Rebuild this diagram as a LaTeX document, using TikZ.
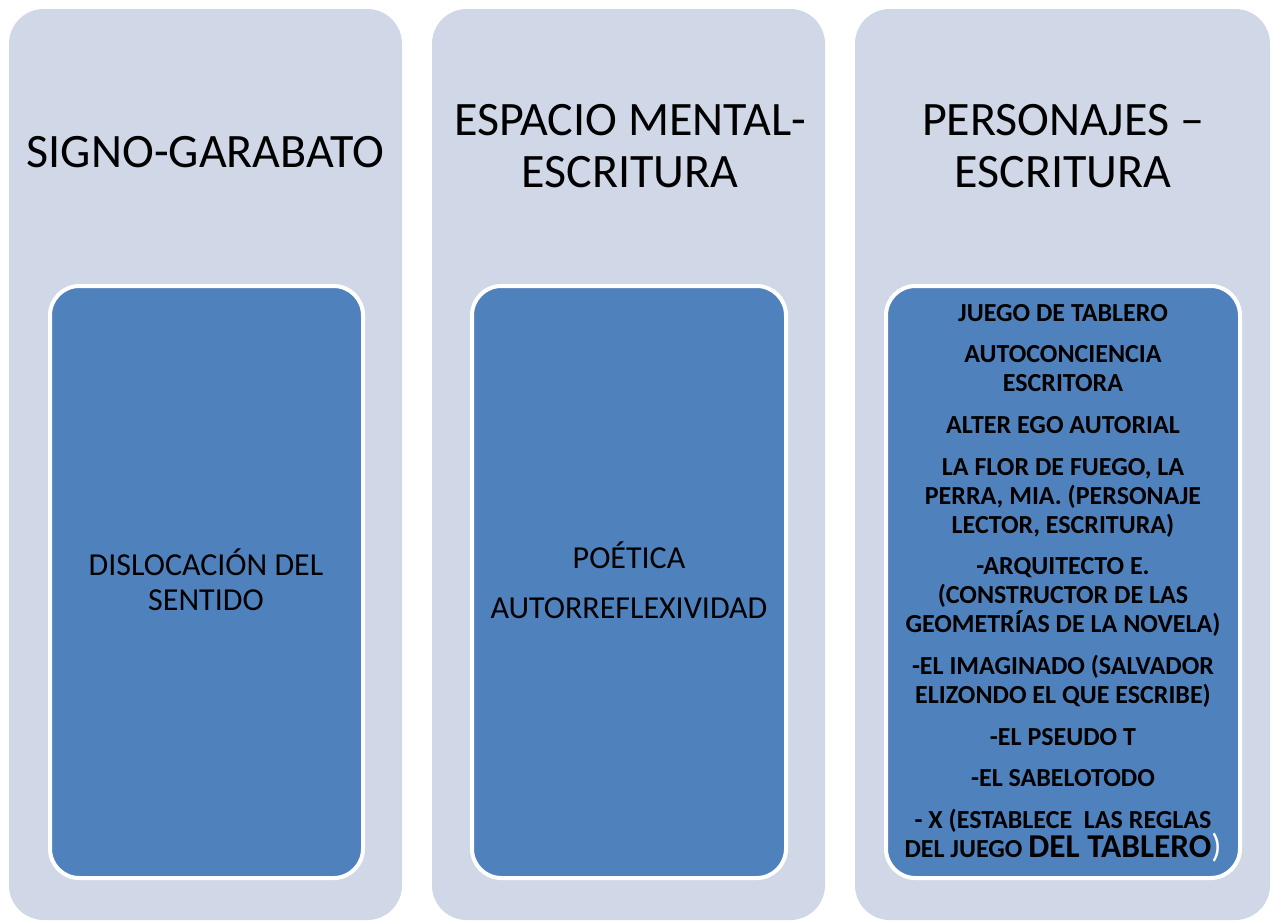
\documentclass[tikz,border=0pt]{standalone}
\usepackage{fontspec}
\setmainfont{Carlito}
\usepackage{xcolor}
\definecolor{panelgray}{HTML}{D0D8E8}
\definecolor{boxblue}{HTML}{4F81BD}
\tikzstyle{panel} = [rectangle, rounded corners=26pt, minimum height=683.25pt, minimum width=294.75pt, fill=panelgray, draw=none]
\tikzstyle{title} = [text centered, align=center, font=\fontsize{36}{39}\selectfont]
\tikzstyle{inner} = [rectangle, rounded corners=22pt, minimum height=444pt, minimum width=235pt, draw=white, line width=3pt, fill=boxblue, align=center]
\tikzstyle{plain} = [align=center, font=\fontsize{24}{26.25}\selectfont]
\tikzstyle{list} = [align=center, font=\fontsize{19.5}{21.75}\selectfont\bfseries]

\begin{document}
\begin{tikzpicture}[x=0.75pt, y=-0.75pt]
\useasboundingbox (0,0) rectangle (1272,922);

\node (signo) [panel] at (205.5,464.5) {};
\node (espacio) [panel] at (628.5,464.5) {};
\node (personajes) [panel, minimum width=311.25pt] at (1062.5,464.5) {};

\node (t1) [title] at (205.5,152) {SIGNO-GARABATO};
\node (t2) [title] at (630,146) {ESPACIO MENTAL-\\ESCRITURA};
\node (t3) [title] at (1063,146) {PERSONAJES --\\ESCRITURA};

\node (b1) [inner, minimum width=234.75pt] at (206.5,582) {};
\node (b2) [inner, minimum width=235.5pt] at (629,582) {};
\node (b3) [inner, minimum width=265.5pt] at (1063,582) {};

\node (dislocacion) [plain] at (206,580) {DISLOCACIÓN DEL\\SENTIDO};
\node (poetica) [plain] at (629,580) {POÉTICA\\[11pt]AUTORREFLEXIVIDAD};
\node (lista) [list] at (1063,583) {JUEGO DE TABLERO\\[9.5pt]
AUTOCONCIENCIA\\ESCRITORA\\[9.5pt]
ALTER EGO AUTORIAL\\[9.5pt]
LA FLOR DE FUEGO, LA\\PERRA, MIA. (PERSONAJE\\LECTOR, ESCRITURA)\\[9.5pt]
-ARQUITECTO E.\\(CONSTRUCTOR DE LAS\\GEOMETRÍAS DE LA NOVELA)\\[9.5pt]
-EL IMAGINADO (SALVADOR\\ELIZONDO EL QUE ESCRIBE)\\[9.5pt]
-EL PSEUDO T\\[9.5pt]
-EL SABELOTODO\\[9.5pt]
- X (ESTABLECE\ \ LAS REGLAS\\DEL JUEGO {\fontsize{25}{26}\selectfont DEL TABLERO\textcolor{white}{\mdseries)}}};
\end{tikzpicture}
\end{document}
